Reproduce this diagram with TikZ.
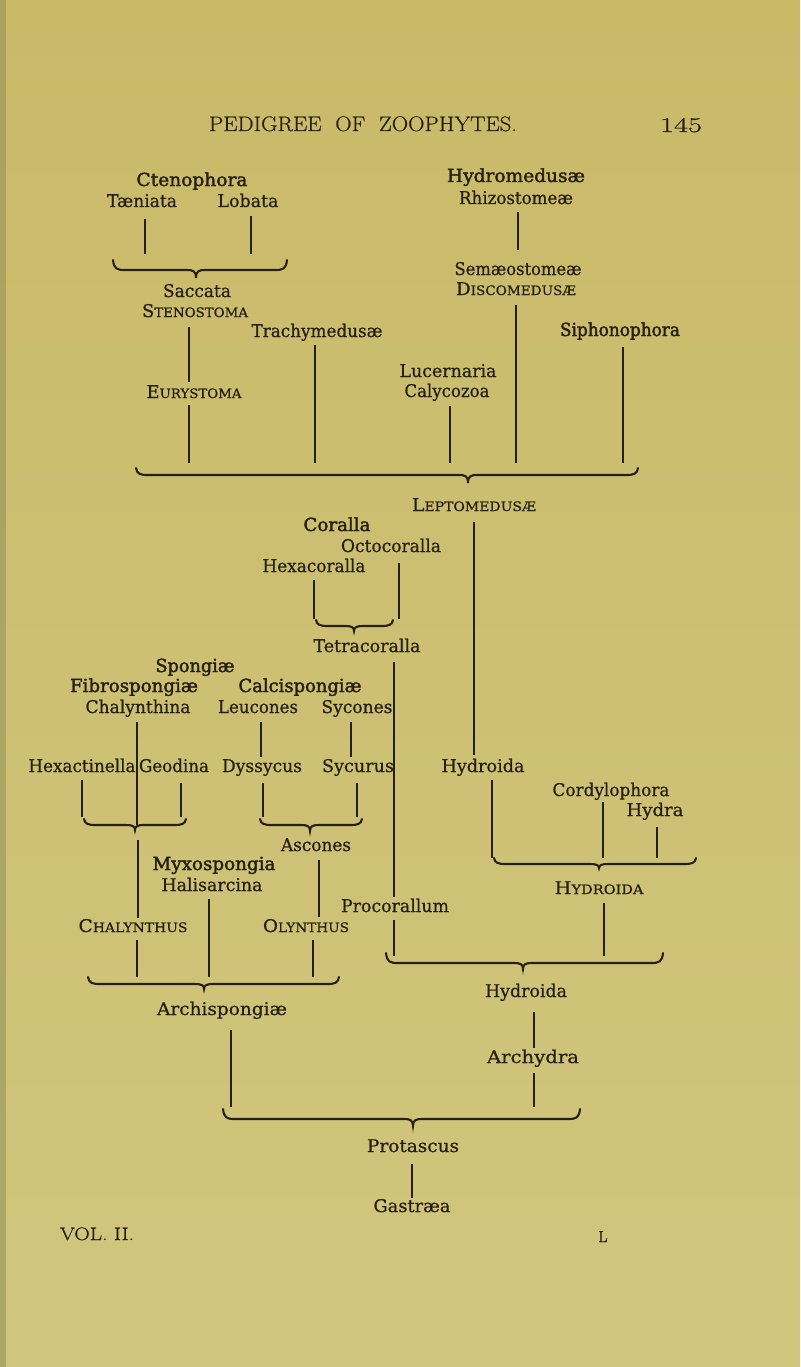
\documentclass[tikz,border=0pt]{standalone}
\usepackage{fontspec}
\usepackage{graphicx}
\setmainfont[FakeBold=0.7]{DejaVu Serif}
\newfontfamily\heavy[FakeBold=2.0]{DejaVu Serif}
\newfontfamily\lmr[FakeBold=0.6]{Latin Modern Roman}
\definecolor{ink}{RGB}{38,32,20}
\definecolor{paperA}{RGB}{201,186,104}
\definecolor{paperB}{RGB}{209,198,126}
\definecolor{gutter}{RGB}{150,146,88}
\newlength\fitlen
\newcommand\fitw[2]{\settowidth\fitlen{#2}\pgfmathsetmacro\fitr{#1/\fitlen}\scalebox{\fitr}[1]{#2}}
\newcommand\fsc[2]{#1{\fontsize{13}{15}\selectfont #2}}
\newcommand\hbr[6]{%
\draw[brc] (#1,#4-#5) .. controls (#1+1,#4-1) and (#1+4,#4) .. (#1+12,#4) -- (#2-9,#4) .. controls (#2-3,#4) and (#2,#4+1) .. (#2,#4+#6) .. controls (#2,#4+1) and (#2+3,#4) .. (#2+9,#4) -- (#3-12,#4) .. controls (#3-4,#4) and (#3-1,#4-1) .. (#3,#4-#5);}
\tikzset{
 t/.style={inner sep=0pt,text height=12pt,text depth=4pt,text=ink,font=\fontsize{17.5}{20}\selectfont},
 tb/.style={t,font=\heavy\fontsize{18}{20}\selectfont},
 tl/.style={t,font=\lmr\fontsize{21}{24}\selectfont},
 ln/.style={draw=ink,line width=1.1pt,shorten <=5pt,shorten >=3pt},
 brc/.style={draw=ink,line width=2.1pt,line cap=round},
}
\begin{document}
\begin{tikzpicture}[x=1pt,y=-1pt]
\useasboundingbox (0,0) rectangle (800,1367);
\shade[top color=paperA,bottom color=paperB] (0,0) rectangle (800,1367);
\fill[gutter,opacity=0.6] (0,0) rectangle (6,1367);

% header
\node[tl] (title) at (363,127) {\fitw{308}{PEDIGREE\ \ OF\ \ ZOOPHYTES.}};
\node[tl] (page) at (681,128) {\fitw{42}{145}};

% top block
\node[tb] (cteno) at (192,182) {\fitw{111}{Ctenophora}};
\node[t] (taen) at (142,203) {\fitw{70}{Tæniata}};
\node[t] (lob) at (248,203) {\fitw{61}{Lobata}};
\node[tb] (hydrom) at (516,178) {\fitw{138}{Hydromedusæ}};
\node[t] (rhizo) at (516,200) {\fitw{114}{Rhizostomeæ}};
\node[t] (sacc) at (197,293) {\fitw{68}{Saccata}};
\node[t] (steno) at (195,313) {\fitw{106}{\fsc{S}{TENOSTOMA}}};
\node[t] (semae) at (518,271) {\fitw{127}{Semæostomeæ}};
\node[t] (disco) at (516,291) {\fitw{120}{\fsc{D}{ISCOMEDUSÆ}}};
\node[t] (trachy) at (317,333) {\fitw{131}{Trachymedusæ}};
\node[tb] (sipho) at (620,332) {\fitw{120}{Siphonophora}};
\node[t] (lucer) at (448,373) {\fitw{97}{Lucernaria}};
\node[t] (calyco) at (447,393) {\fitw{85}{Calycozoa}};
\node[t] (eury) at (194,394) {\fitw{95}{\fsc{E}{URYSTOMA}}};

% middle block
\node[t] (lepto) at (474,507) {\fitw{124}{\fsc{L}{EPTOMEDUSÆ}}};
\node[tb] (coralla) at (337,527) {\fitw{67}{Coralla}};
\node[t] (octo) at (391,548) {\fitw{100}{Octocoralla}};
\node[t] (hexa) at (314,568) {\fitw{103}{Hexacoralla}};
\node[t] (tetra) at (367,648) {\fitw{107}{Tetracoralla}};
\node[tb] (spong) at (195,668) {\fitw{79}{Spongiæ}};
\node[tb] (fibro) at (134,688) {\fitw{128}{Fibrospongiæ}};
\node[tb] (calci) at (300,688) {\fitw{123}{Calcispongiæ}};
\node[t] (chalyna) at (138,709) {\fitw{105}{Chalynthina}};
\node[t] (leuc) at (258,709) {\fitw{80}{Leucones}};
\node[t] (sycon) at (357,709) {\fitw{71}{Sycones}};
\node[t] (hexact) at (82,768) {\fitw{107}{Hexactinella}};
\node[t] (geod) at (174,768) {\fitw{70}{Geodina}};
\node[t] (dyss) at (262,768) {\fitw{80}{Dyssycus}};
\node[t] (sycur) at (358,768) {\fitw{72}{Sycurus}};
\node[t] (hydr1) at (483,768) {\fitw{83}{Hydroida}};
\node[t] (cordy) at (611,792) {\fitw{117}{Cordylophora}};
\node[t] (hydra) at (655,812) {\fitw{57}{Hydra}};
\node[t] (ascon) at (316,847) {\fitw{70}{Ascones}};
\node[tb] (myxo) at (214,866) {\fitw{123}{Myxospongia}};
\node[t] (halis) at (212,887) {\fitw{101}{Halisarcina}};
\node[t] (hydroida) at (599,890) {\fitw{89}{\fsc{H}{YDROIDA}}};
\node[t] (procor) at (395,908) {\fitw{108}{Procorallum}};
\node[t] (chalys) at (133,928) {\fitw{109}{\fsc{C}{HALYNTHUS}}};
\node[t] (olyn) at (306,928) {\fitw{86}{\fsc{O}{LYNTHUS}}};

% bottom block
\node[t] (hydr2) at (526,993) {\fitw{82}{Hydroida}};
\node[t] (archisp) at (222,1011) {\fitw{130}{Archispongiæ}};
\node[t] (archy) at (533,1059) {\fitw{92}{Archydra}};
\node[t] (protas) at (413,1148) {\fitw{92}{Protascus}};
\node[t] (gastr) at (412,1208) {\fitw{77}{Gastræa}};
\node[t,font=\lmr\fontsize{18}{20}\selectfont] (vol) at (97,1236) {\fitw{74}{VOL. II.}};
\node[t,font=\lmr\fontsize{16}{20}\selectfont] (sig) at (603,1238) {L};

% brace coordinates
\coordinate (b1in) at (196,254); \coordinate (b1tip) at (196,278);
\coordinate (b2in) at (468,463); \coordinate (b2tip) at (468,483);
\coordinate (b3in) at (354,619); \coordinate (b3tip) at (354,631);
\coordinate (b4in) at (135,817); \coordinate (b4) at (135,825); \coordinate (b4tip) at (135,830);
\coordinate (b5in) at (310,817); \coordinate (b5tip) at (310,831);
\coordinate (b6in) at (599,858); \coordinate (b6tip) at (599,868);
\coordinate (b7in) at (523,956); \coordinate (b7tip) at (523,969);
\coordinate (b8in) at (204,977); \coordinate (b8tip) at (204,989);
\coordinate (b9in) at (413,1107); \coordinate (b9tip) at (413,1126);

% braces
\hbr{113}{196}{287}{270}{10}{8}
\hbr{136}{468}{638}{475}{7}{8}
\hbr{316}{354}{393}{626}{6}{5}
\hbr{84}{135}{186}{825}{6}{5}
\hbr{260}{310}{362}{825}{6}{6}
\hbr{494}{599}{696}{864}{6}{4}
\hbr{386}{523}{663}{963}{10}{6}
\hbr{88}{204}{339}{984}{7}{5}
\hbr{223}{413}{580}{1119}{10}{7}

% connectors
\draw[ln,shorten <=8pt,shorten >=0pt] (taen.south -| 145,0) -- (b1in -| 145,0);
\draw[ln,shorten >=0pt] (lob.south -| 251,0) -- (b1in -| 251,0);
\draw[ln,shorten <=4pt,shorten >=13pt] (rhizo.south -| 518,0) -- (semae.north -| 518,0);
\draw[ln,shorten <=6pt,shorten >=4pt] (steno.south -| 189,0) -- (eury.north -| 189,0);
\draw[ln,shorten <=3pt,shorten >=0pt] (eury.south -| 189,0) -- (b2in -| 189,0);
\draw[ln,shorten <=4pt,shorten >=0pt] (trachy.south -| 315,0) -- (b2in -| 315,0);
\draw[ln,shorten >=0pt] (calyco.south -| 450,0) -- (b2in -| 450,0);
\draw[ln,shorten <=6pt,shorten >=0pt] (disco.south -| 516,0) -- (b2in -| 516,0);
\draw[ln,shorten <=7pt,shorten >=0pt] (sipho.south -| 623,0) -- (b2in -| 623,0);
\draw[ln,shorten <=7pt,shorten >=5pt] (lepto.south -| 474,0) -- (hydr1.north -| 474,0);
\draw[ln,shorten <=7pt,shorten >=0pt] (octo.south -| 399,0) -- (b3in -| 399,0);
\draw[ln,shorten <=4pt,shorten >=0pt] (hexa.south -| 314,0) -- (b3in -| 314,0);
\draw[ln,shorten <=6pt,shorten >=3pt] (tetra.south -| 394,0) -- (procor.north -| 394,0);
\draw[ln,shorten >=0pt] (chalyna.south -| 137,0) -- (b4 -| 137,0);
\draw[ln] (leuc.south -| 261,0) -- (dyss.north -| 261,0);
\draw[ln] (sycon.south -| 351,0) -- (sycur.north -| 351,0);
\draw[ln,shorten <=4pt,shorten >=0pt] (hexact.south -| 82,0) -- (b4in -| 82,0);
\draw[ln,shorten <=7pt,shorten >=0pt] (geod.south -| 181,0) -- (b4in -| 181,0);
\draw[ln,shorten <=7pt,shorten >=0pt] (dyss.south -| 263,0) -- (b5in -| 263,0);
\draw[ln,shorten <=7pt,shorten >=0pt] (sycur.south -| 357,0) -- (b5in -| 357,0);
\draw[ln,shorten <=10pt,shorten >=2pt] (b4tip -| 138,0) -- (chalys.north -| 138,0);
\draw[ln] (ascon.south -| 319,0) -- (olyn.north -| 319,0);
\draw[ln,shorten <=4pt,shorten >=0pt] (hydr1.south -| 492,0) -- (b6in -| 492,0);
\draw[ln,shorten <=2pt,shorten >=0pt] (cordy.south -| 603,0) -- (b6in -| 603,0);
\draw[ln,shorten <=7pt,shorten >=0pt] (hydra.south -| 657,0) -- (b6in -| 657,0);
\draw[ln,shorten >=0pt] (hydroida.south -| 604,0) -- (b7in -| 604,0);
\draw[ln,shorten <=4pt,shorten >=0pt] (procor.south -| 394,0) -- (b7in -| 394,0);
\draw[ln,shorten <=4pt,shorten >=0pt] (chalys.south -| 137,0) -- (b8in -| 137,0);
\draw[ln,shorten <=4pt,shorten >=0pt] (halis.south -| 209,0) -- (b8in -| 209,0);
\draw[ln,shorten <=4pt,shorten >=0pt] (olyn.south -| 313,0) -- (b8in -| 313,0);
\draw[ln,shorten <=11pt,shorten >=0pt] (archisp.south -| 231,0) -- (b9in -| 231,0);
\draw[ln,shorten <=11pt,shorten >=3pt] (hydr2.south -| 534,0) -- (archy.north -| 534,0);
\draw[ln,shorten <=6pt,shorten >=0pt] (archy.south -| 534,0) -- (b9in -| 534,0);
\draw[ln,shorten <=8pt,shorten >=2pt] (protas.south -| 412,0) -- (gastr.north -| 412,0);
\end{tikzpicture}
\end{document}
